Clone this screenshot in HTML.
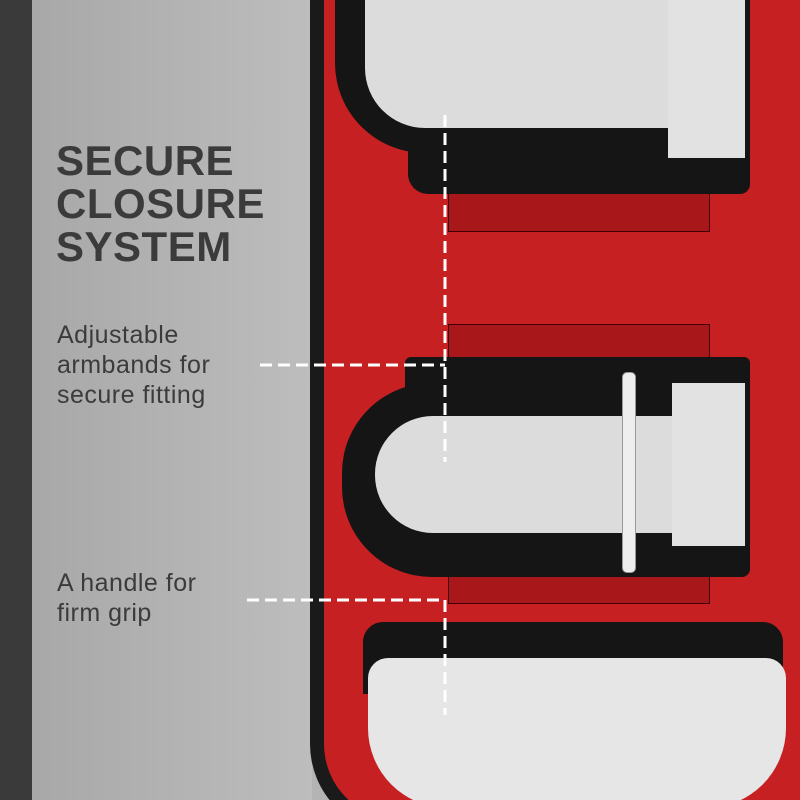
<!DOCTYPE html>
<html><head><style>
html,body{margin:0;width:800px;height:800px;overflow:hidden}
#c{position:relative;width:800px;height:800px;overflow:hidden;background:#b4b4b4;font-family:"Liberation Sans",sans-serif}
.a{position:absolute}
.t{color:#3b3b3b}
</style></head><body><div id="c">
<div class="a" style="left:0;top:0;width:32px;height:800px;background:#3a3a3a"></div>
<div class="a" style="left:32px;top:0;width:280px;height:800px;background:linear-gradient(90deg,#a8a8a8,#bdbdbd)"></div>
<!-- pad -->
<div class="a" style="left:310px;top:-60px;width:560px;height:880px;background:#c62022;border:14px solid #1a1a1a;border-radius:60px 0 0 90px;border-right:none;border-top:none"></div>
<!-- top strap -->
<div class="a" style="left:448px;top:184px;width:260px;height:46px;background:#a8181a;border:1px solid #400"></div>
<div class="a" style="left:335px;top:-40px;width:415px;height:193px;background:#151515;border-radius:0 0 0 90px"></div>
<div class="a" style="left:408px;top:128px;width:342px;height:66px;background:#151515;border-radius:0 0 10px 20px"></div>
<div class="a" style="left:365px;top:-10px;width:305px;height:138px;background:#dcdcdc;border-radius:0 0 0 60px"></div>
<div class="a" style="left:668px;top:0;width:77px;height:158px;background:#e2e2e2"></div>
<!-- middle strap -->
<div class="a" style="left:448px;top:324px;width:260px;height:35px;background:#a8181a;border:1px solid #400"></div>
<div class="a" style="left:448px;top:566px;width:260px;height:36px;background:#a8181a;border:1px solid #400"></div>
<div class="a" style="left:405px;top:357px;width:345px;height:40px;background:#151515;border-radius:6px"></div>
<div class="a" style="left:342px;top:383px;width:408px;height:194px;background:#151515;border-radius:90px 8px 8px 90px"></div>
<div class="a" style="left:375px;top:416px;width:300px;height:117px;background:#dcdcdc;border-radius:58px 0 0 58px"></div>
<div class="a" style="left:672px;top:383px;width:73px;height:163px;background:#e2e2e2"></div>
<div class="a" style="left:622px;top:372px;width:12px;height:199px;background:#eee;border:1px solid #999;border-radius:5px"></div>
<!-- handle -->
<div class="a" style="left:363px;top:622px;width:420px;height:72px;background:#151515;border-radius:20px 20px 0 0"></div>
<div class="a" style="left:368px;top:658px;width:418px;height:150px;background:#e6e6e6;border-radius:20px 20px 80px 80px"></div>
<!-- text -->
<div class="a t" style="left:56px;top:139px;font-size:42px;font-weight:bold;line-height:43px;letter-spacing:0.5px">SECURE<br>CLOSURE<br>SYSTEM</div>
<div class="a t" style="left:57px;top:320px;font-size:25px;line-height:30px;letter-spacing:0.5px">Adjustable<br>armbands for<br>secure fitting</div>
<div class="a t" style="left:57px;top:568px;font-size:25px;line-height:30px;letter-spacing:0.5px">A handle for<br>firm grip</div>
<!-- dashes -->
<svg class="a" style="left:0;top:0" width="800" height="800">
<g stroke="#fff" stroke-width="3" stroke-dasharray="12 6" fill="none">
<line x1="260" y1="365" x2="445" y2="365"/>
<line x1="445" y1="115" x2="445" y2="462"/>
<line x1="247" y1="600" x2="445" y2="600"/>
<line x1="445" y1="600" x2="445" y2="715"/>
</g></svg>
</div></body></html>
